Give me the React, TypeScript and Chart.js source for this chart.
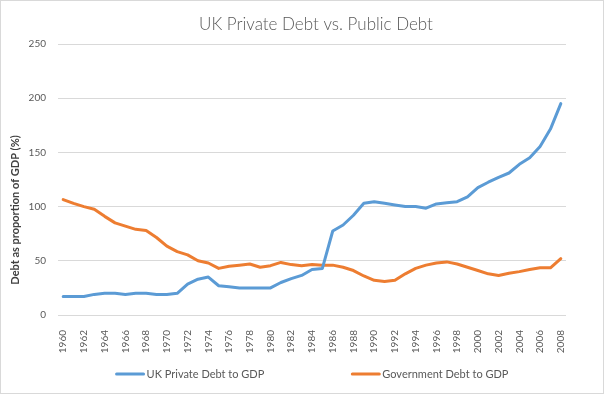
import React, { useEffect, useRef } from "react";
import { Chart, registerables } from "chart.js";

Chart.register(...registerables);

const years: string[] = [
  "1960", "1961", "1962", "1963", "1964", "1965", "1966", "1967", "1968", "1969",
  "1970", "1971", "1972", "1973", "1974", "1975", "1976", "1977", "1978", "1979",
  "1980", "1981", "1982", "1983", "1984", "1985", "1986", "1987", "1988", "1989",
  "1990", "1991", "1992", "1993", "1994", "1995", "1996", "1997", "1998", "1999",
  "2000", "2001", "2002", "2003", "2004", "2005", "2006", "2007", "2008",
];

const privateDebt: number[] = [
  17, 17, 17, 19, 20, 20, 19, 20, 20, 19,
  19, 20, 28.5, 33, 35, 27, 26, 25, 25, 25,
  25, 30, 33.5, 36.5, 42, 43, 77.5, 83, 92, 103,
  104.5, 103, 101.5, 100, 100, 98.5, 102.5, 103.5, 104.5, 109,
  117.5, 122.5, 127, 131, 139, 145, 155.5, 171.5, 195,
];

const govDebt: number[] = [
  106.5, 103, 100, 97.5, 91, 85, 82, 79, 78, 71.5,
  63.5, 58.5, 55.5, 50, 48, 43, 45, 46, 47, 44,
  45.5, 48.5, 46.5, 45.5, 46.5, 46, 46, 44, 41, 36,
  32, 31, 32, 38, 43, 46, 48, 49, 47, 44,
  41, 38, 36.5, 38.5, 40, 42, 43.5, 43.5, 52,
];

const yMin = 0;
const yMax = 250;
const yStep = 50;

const chartTitle = "UK Private Debt vs. Public Debt";
const yAxisTitle = "Debt as proportion of GDP (%)";
const seriesNames = ["UK Private Debt to GDP", "Government Debt to GDP"];
const seriesColors = ["#5B9BD5", "#ED7D31"];

const FONT = "Lato, 'Open Sans', sans-serif";

const decorPlugin = {
  id: "decor",
  beforeDraw(chart: any) {
    const ctx = chart.ctx;
    ctx.save();
    ctx.fillStyle = "#ffffff";
    ctx.fillRect(0, 0, chart.width, chart.height);
    ctx.restore();
  },
  afterDraw(chart: any) {
    const ctx = chart.ctx;
    const area = chart.chartArea;
    ctx.save();
    // outer border
    ctx.strokeStyle = "#d9d9d9";
    ctx.lineWidth = 1;
    ctx.strokeRect(0.5, 0.5, chart.width - 1, chart.height - 1);

    // chart title (centred over the plot area, like the original)
    ctx.font = `300 17px ${FONT}`;
    ctx.fillStyle = "#595959";
    ctx.textAlign = "center";
    ctx.textBaseline = "alphabetic";
    ctx.fillText(chartTitle, (area.left + area.right) / 2 + 4, 30);

    // y axis title
    ctx.save();
    ctx.translate(15, 210);
    ctx.rotate(-Math.PI / 2);
    ctx.font = `bold 11px ${FONT}`;
    ctx.fillStyle = "#404040";
    ctx.textAlign = "center";
    ctx.textBaseline = "middle";
    ctx.fillText(yAxisTitle, 0, 0);
    ctx.restore();

    // legend
    ctx.font = `11px ${FONT}`;
    const lineLen = 29;
    const gap = 2;
    const itemGap = 87;
    const widths = chart.data.datasets.map(
      (ds: any) => lineLen + gap + ctx.measureText(ds.label).width
    );
    const total = widths.reduce((a: number, b: number) => a + b, 0) + itemGap * (widths.length - 1);
    let x = (area.left + area.right) / 2 - total / 2;
    const y = 374;
    chart.data.datasets.forEach((ds: any, i: number) => {
      ctx.strokeStyle = ds.borderColor;
      ctx.lineWidth = 3;
      ctx.lineCap = "round";
      ctx.beginPath();
      ctx.moveTo(x + 1, y);
      ctx.lineTo(x + lineLen - 1, y);
      ctx.stroke();
      ctx.fillStyle = "#595959";
      ctx.textAlign = "left";
      ctx.textBaseline = "middle";
      ctx.fillText(ds.label, x + lineLen + gap, y);
      x += widths[i] + itemGap;
    });
    ctx.restore();
  },
};

export default function App() {
  const canvasRef = useRef<HTMLCanvasElement | null>(null);

  useEffect(() => {
    if (!canvasRef.current) return;
    const chart = new Chart(canvasRef.current, {
      type: "line",
      data: {
        labels: years,
        datasets: [
          {
            label: seriesNames[0],
            data: privateDebt,
            borderColor: seriesColors[0],
            backgroundColor: seriesColors[0],
            borderWidth: 3,
            pointRadius: 0,
            tension: 0,
            borderCapStyle: "round",
            borderJoinStyle: "round",
          },
          {
            label: seriesNames[1],
            data: govDebt,
            borderColor: seriesColors[1],
            backgroundColor: seriesColors[1],
            borderWidth: 3,
            pointRadius: 0,
            tension: 0,
            borderCapStyle: "round",
            borderJoinStyle: "round",
          },
        ],
      },
      options: {
        animation: false,
        responsive: false,
        maintainAspectRatio: false,
        devicePixelRatio: 1,
        layout: { padding: { left: 0, right: 38, top: 44, bottom: 40 } },
        plugins: {
          legend: { display: false },
          tooltip: { enabled: false },
          title: { display: false },
        },
        scales: {
          x: {
            offset: true,
            grid: { display: false },
            border: { display: false },
            afterFit: (scale: any) => {
              scale.height = 39;
            },
            ticks: {
              autoSkip: false,
              minRotation: 90,
              maxRotation: 90,
              padding: 7,
              color: "#595959",
              font: { family: FONT, size: 10 },
              callback: function (this: any, val: any, idx: number) {
                return idx % 2 === 0 ? this.getLabelForValue(val) : "";
              },
            },
          },
          y: {
            min: yMin,
            max: yMax,
            border: { display: false },
            grid: { color: "#d9d9d9", drawTicks: false, lineWidth: 1 },
            afterFit: (scale: any) => {
              scale.width = 58;
            },
            ticks: {
              stepSize: yStep,
              padding: 12,
              color: "#595959",
              font: { family: FONT, size: 10 },
            },
          },
        },
      },
      plugins: [decorPlugin],
    });
    return () => chart.destroy();
  }, []);

  return (
    <div style={{ position: "absolute", left: 0, top: 0, width: 604, height: 394 }}>
      <canvas ref={canvasRef} width={604} height={394} style={{ width: 604, height: 394, display: "block" }} />
    </div>
  );
}
